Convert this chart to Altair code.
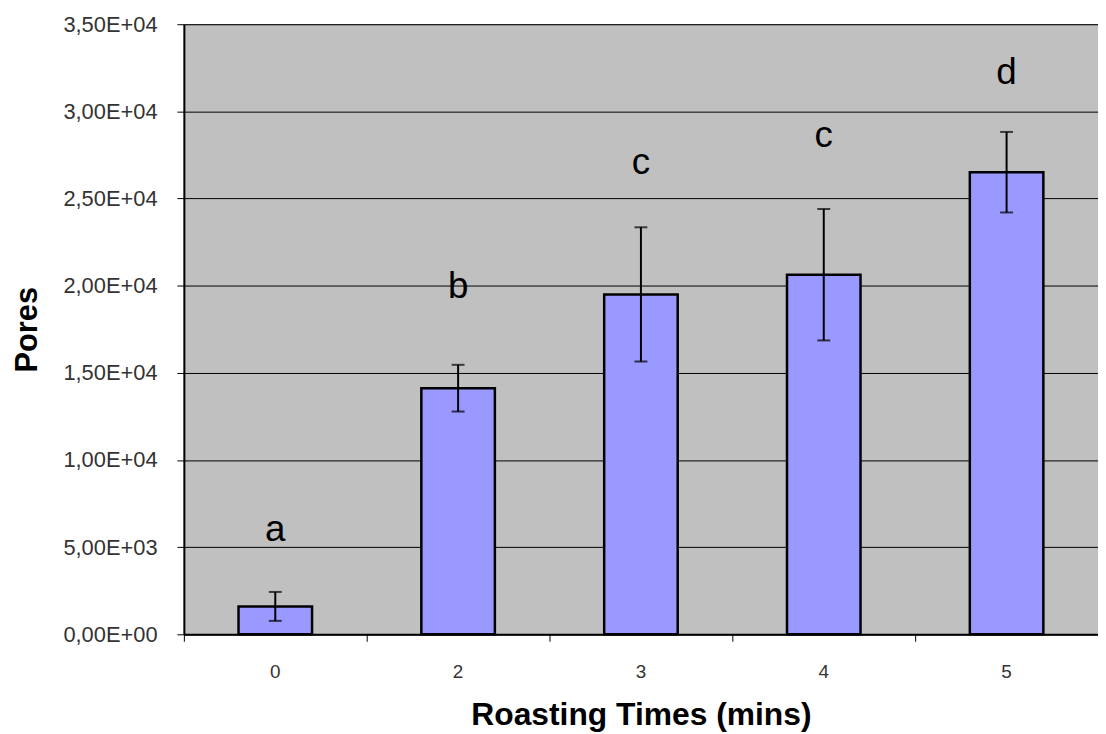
import altair as alt
import pandas as pd

times = ["0", "2", "3", "4", "5"]
pores = [1600, 14120, 19500, 20630, 26510]
errors = [830, 1340, 3850, 3770, 2310]
letters = ["a", "b", "c", "c", "d"]
letter_y = [5360, 19270, 26390, 27930, 31580]
y_ticks = [0, 5000, 10000, 15000, 20000, 25000, 30000, 35000]
y_tick_labels = ["0,00E+00", "5,00E+03", "1,00E+04", "1,50E+04",
                 "2,00E+04", "2,50E+04", "3,00E+04", "3,50E+04"]

df = pd.DataFrame({
    "time": times,
    "pores": pores,
    "lo": [p - e for p, e in zip(pores, errors)],
    "hi": [p + e for p, e in zip(pores, errors)],
    "letter": letters,
    "ly": letter_y,
})

label_expr = "''"
for v, lab in reversed(list(zip(y_ticks, y_tick_labels))):
    label_expr = f"datum.value == {v} ? '{lab}' : ({label_expr})"

FONT = "Liberation Sans"

x_enc = alt.X(
    "time:N", sort=times,
    scale=alt.Scale(paddingInner=0, paddingOuter=0),
    axis=alt.Axis(
        title="Roasting Times (mins)", labelAngle=0, bandPosition=0,
        tickSize=7, tickColor="#000000", tickWidth=1,
        domainColor="#000000", domainWidth=2, labelPadding=21,
        labelFontSize=19, labelColor="#333333", labelFont=FONT,
        titleFont=FONT, titleFontSize=32, titleFontWeight="bold",
        titleColor="#000000", titlePadding=19,
    ),
)

y_scale = alt.Scale(domain=[0, 35000], nice=False)
y_axis = alt.Axis(
    title="Pores", values=y_ticks, labelExpr=label_expr,
    grid=True, gridColor="#000000", gridWidth=1,
    tickSize=7, tickColor="#000000", tickWidth=1,
    domainColor="#000000", domainWidth=2, labelPadding=20,
    labelFontSize=22, labelColor="#333333", labelFont=FONT,
    titleFont=FONT, titleFontSize=31, titleFontWeight="bold",
    titleColor="#000000", titlePadding=20,
)

base = alt.Chart(df)

bars = base.mark_bar(size=74, color="#9999FF", stroke="#000000", strokeWidth=2.5).encode(
    x=x_enc,
    y=alt.Y("pores:Q", scale=y_scale, axis=y_axis),
)

rules = base.mark_rule(color="#000000", strokeWidth=2).encode(
    x=alt.X("time:N", sort=times),
    y=alt.Y("lo:Q"),
    y2="hi:Q",
)

caps_lo = base.mark_tick(color="#000000", size=13, thickness=2).encode(
    x=alt.X("time:N", sort=times), y=alt.Y("lo:Q"))
caps_hi = base.mark_tick(color="#000000", size=13, thickness=2).encode(
    x=alt.X("time:N", sort=times), y=alt.Y("hi:Q"))

texts = base.mark_text(font=FONT, fontSize=37, color="#000000", baseline="alphabetic").encode(
    x=alt.X("time:N", sort=times),
    y=alt.Y("ly:Q"),
    text="letter:N",
)

chart = alt.layer(bars, rules, caps_lo, caps_hi, texts).properties(
    width=920, height=614,
    autosize=alt.AutoSizeParams(type="none"),
    padding={"left": 177, "top": 14, "right": 0, "bottom": 96},
    background="#FFFFFF",
).configure_view(
    fill="#C0C0C0", stroke="#808080", strokeWidth=1,
)

chart.save("out.html", embed_options={"renderer": "svg", "actions": False})
